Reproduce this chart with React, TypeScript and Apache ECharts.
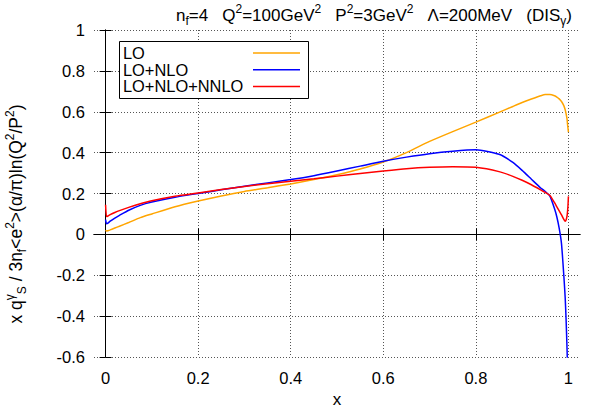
import React, { useEffect, useRef } from "react";
import * as echarts from "echarts";

const xs = [0, 0.002, 0.005, 0.01, 0.02, 0.03, 0.05, 0.075, 0.1, 0.15, 0.2, 0.25, 0.3, 0.35, 0.4, 0.45, 0.5, 0.55, 0.6, 0.65, 0.7, 0.75, 0.8, 0.85, 0.88, 0.9, 0.92, 0.94, 0.95, 0.96, 0.97, 0.975, 0.98, 0.985, 0.99, 0.993, 0.995, 0.997, 0.998, 0.999, 1];
const lo = [0.02, 0.016, 0.018, 0.022, 0.031, 0.04, 0.058, 0.082, 0.1, 0.135, 0.163, 0.188, 0.21, 0.228, 0.247, 0.268, 0.292, 0.32, 0.354, 0.4, 0.455, 0.503, 0.549, 0.597, 0.626, 0.645, 0.662, 0.678, 0.684, 0.684, 0.678, 0.672, 0.663, 0.65, 0.63, 0.61, 0.59, 0.565, 0.54, 0.52, 0.5];
const loNlo = [0.072, 0.052, 0.055, 0.065, 0.08, 0.093, 0.118, 0.142, 0.158, 0.182, 0.2, 0.218, 0.235, 0.252, 0.268, 0.287, 0.31, 0.334, 0.358, 0.378, 0.395, 0.407, 0.414, 0.392, 0.352, 0.313, 0.27, 0.227, 0.21, 0.187, 0.125, 0.085, 0.03, -0.045, -0.2, -0.31, -0.42, -0.56, -0.65, -0.8, -1.2];
const loNloNnlo = [0.145, 0.087, 0.09, 0.097, 0.107, 0.116, 0.132, 0.15, 0.165, 0.187, 0.203, 0.219, 0.234, 0.248, 0.26, 0.272, 0.285, 0.298, 0.31, 0.321, 0.328, 0.331, 0.328, 0.307, 0.284, 0.265, 0.243, 0.218, 0.205, 0.19, 0.155, 0.135, 0.115, 0.095, 0.073, 0.064, 0.07, 0.09, 0.11, 0.14, 0.186];

const seriesNames = ["LO", "LO+NLO", "LO+NLO+NNLO"];
const seriesColors = ["#ffa500", "#0000ff", "#ff0000"];
const xTicks = [0, 0.2, 0.4, 0.6, 0.8, 1];

const FONT = "'Liberation Sans', Arial, Helvetica, sans-serif";

export default function App() {
  const ref = useRef<HTMLDivElement>(null);
  useEffect(() => {
    if (!ref.current) return;
    const chart = echarts.init(ref.current, null, { renderer: "svg" });
    const allData = [lo, loNlo, loNloNnlo];
    const rich = {
      sup: { fontSize: 12, lineHeight: 12, verticalAlign: "top", fontFamily: FONT, fill: "#000" },
      sub: { fontSize: 12, lineHeight: 14, verticalAlign: "bottom", fontFamily: FONT, fill: "#000" },
    };
    const splitLine = { show: true, lineStyle: { color: "#555", type: [1, 2], width: 1 } };
    const axisLine = { show: true, lineStyle: { color: "#000", width: 1 } };
    const axisTick = { show: true, inside: true, length: 6, lineStyle: { color: "#000" } };
    const option: any = {
      animation: false,
      grid: { left: 94, top: 30, right: 10, bottom: 55, containLabel: false },
      xAxis: [
        {
          type: "value", min: -0.025, max: 1.025, position: "bottom",
          axisLine, axisTick: { ...axisTick, customValues: xTicks },
          axisLabel: { customValues: xTicks, color: "#000", fontSize: 16.5, fontFamily: FONT, margin: 12, formatter: (v: number) => String(+v.toFixed(1)) },
          splitLine,
        },
        {
          type: "value", min: -0.025, max: 1.025, position: "top",
          axisLine, axisTick: { ...axisTick, customValues: xTicks },
          axisLabel: { show: false, customValues: xTicks },
          splitLine: { show: false },
        },
      ],
      yAxis: [
        {
          type: "value", min: -0.6, max: 1, interval: 0.2, position: "left",
          axisLine, axisTick,
          axisLabel: { color: "#000", fontSize: 16.5, fontFamily: FONT, margin: 9, formatter: (v: number) => String(+v.toFixed(1)) },
          splitLine,
        },
        {
          type: "value", min: -0.6, max: 1, interval: 0.2, position: "right",
          axisLine, axisTick, axisLabel: { show: false }, splitLine: { show: false },
        },
      ],
      series: seriesNames.map((name, i) => ({
        name,
        type: "line",
        xAxisIndex: 0,
        yAxisIndex: 0,
        showSymbol: false,
        symbol: "none",
        clip: true,
        smooth: 0.2,
        lineStyle: { color: seriesColors[i], width: 1.5 },
        data: xs.map((x, j) => [x, allData[i][j]]),
      })),
      graphic: [
        {
          type: "text", x: 572, y: 15, z: 100,
          style: {
            text: "n{sub|f}=4   Q{sup|2}=100GeV{sup|2}   P{sup|2}=3GeV{sup|2}   Λ=200MeV   (DIS{sub|γ})",
            fontSize: 17, fontFamily: FONT, fill: "#000", lineHeight: 24,
            align: "right", verticalAlign: "middle", rich,
          },
        },
        {
          type: "text", x: 16, y: 214, rotation: Math.PI / 2, z: 100,
          style: {
            text: "x q{sup|γ}{sub|S} / 3n{sub|f}<e{sup|2}>(α/π)ln(Q{sup|2}/P{sup|2})",
            fontSize: 17.5, fontFamily: FONT, fill: "#000", lineHeight: 24,
            align: "center", verticalAlign: "middle", rich,
          },
        },
        {
          type: "text", x: 337, y: 399, z: 100,
          style: { text: "x", fontSize: 17, fontFamily: FONT, fill: "#000", align: "center", verticalAlign: "middle" },
        },
        {
          type: "rect", z: 100,
          shape: { x: 119.5, y: 41.5, width: 189, height: 57 },
          style: { fill: "#fff", stroke: "#000", lineWidth: 1 },
        },
        ...seriesNames.flatMap((name, i) => [
          {
            type: "text", x: 123, y: 53 + i * 16.7, z: 101,
            style: { text: name, fontSize: 16.4, lineHeight: 16, fontFamily: FONT, fill: "#000", align: "left", verticalAlign: "middle" },
          },
          {
            type: "line", z: 101,
            shape: { x1: 253, y1: 53 + i * 16.7, x2: 300, y2: 53 + i * 16.7 },
            style: { stroke: seriesColors[i], lineWidth: 1.5 },
          },
        ]),
      ],
    };
    chart.setOption(option);
    return () => chart.dispose();
  }, []);
  return (
    <div
      ref={ref}
      style={{ position: "fixed", left: 0, top: 0, width: 590, height: 412, background: "#fff" }}
    />
  );
}
